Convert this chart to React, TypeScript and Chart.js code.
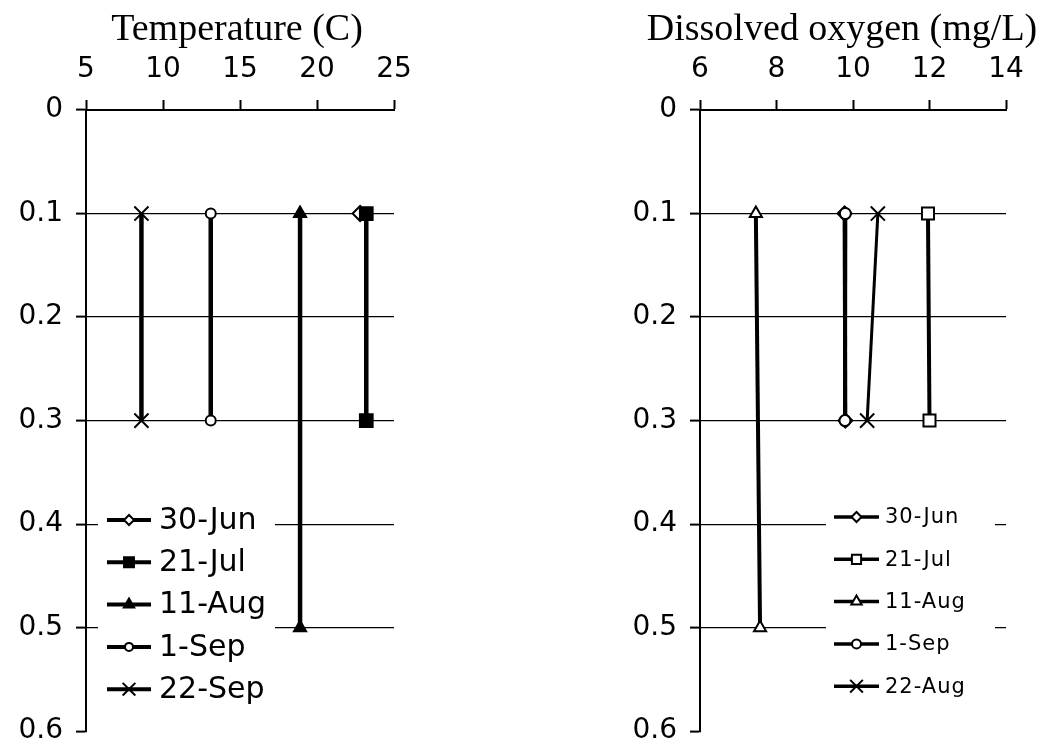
import React, { useEffect, useRef } from 'react';
import { Chart, registerables } from 'chart.js';
import { drawPoint } from 'chart.js/helpers';

Chart.register(...registerables);

// ---- Data ----
const seriesLabelsTemp = ['30-Jun', '21-Jul', '11-Aug', '1-Sep', '22-Sep'];
const seriesLabelsDO = ['30-Jun', '21-Jul', '11-Aug', '1-Sep', '22-Aug'];

const depthTicks = [0, 0.1, 0.2, 0.3, 0.4, 0.5, 0.6];
const tempTicks = [5, 10, 15, 20, 25];
const doTicks = [6, 8, 10, 12, 14];

// Temperature (C) by depth
const tempDepthsJun30 = [0.1];
const tempJun30 = [22.8];
const tempDepthsJul21 = [0.1, 0.3];
const tempJul21 = [23.2, 23.2];
const tempDepthsAug11 = [0.1, 0.5];
const tempAug11 = [18.9, 18.9];
const tempDepthsSep1 = [0.1, 0.3];
const tempSep1 = [13.1, 13.1];
const tempDepthsSep22 = [0.1, 0.3];
const tempSep22 = [8.6, 8.6];

// Dissolved oxygen (mg/L) by depth
const doDepthsJun30 = [0.1, 0.3];
const doJun30 = [9.78, 9.8];
const doDepthsJul21 = [0.1, 0.3];
const doJul21 = [11.96, 12.0];
const doDepthsAug11 = [0.1, 0.5];
const doAug11 = [7.46, 7.57];
const doDepthsSep1 = [0.1, 0.3];
const doSep1 = [9.8, 9.79];
const doDepthsAug22 = [0.1, 0.3];
const doAug22 = [10.65, 10.37];

const toPoints = (values: number[], depths: number[]) =>
  values.map((v, i) => ({ x: v, y: depths[i] }));

const TICK_FONT = { family: 'DejaVu Sans', size: 28 };
const CANVAS_H = 761;

function makeOverlay(cfg: any) {
  return {
    id: 'overlay',
    afterDraw(chart: any) {
      const ctx = chart.ctx as CanvasRenderingContext2D;
      ctx.save();
      ctx.fillStyle = 'black';
      ctx.font = cfg.titleFont;
      ctx.textAlign = 'center';
      ctx.textBaseline = 'middle';
      ctx.fillText(cfg.title, cfg.titleX, cfg.titleY);

      ctx.fillStyle = 'white';
      ctx.fillRect(cfg.box.x, cfg.box.y, cfg.box.w, cfg.box.h);

      chart.data.datasets.forEach((ds: any, i: number) => {
        const y = cfg.rowY0 + i * cfg.rowGap;
        ctx.strokeStyle = 'black';
        ctx.lineWidth = cfg.lineW;
        ctx.beginPath();
        ctx.moveTo(cfg.lineX0, y);
        ctx.lineTo(cfg.lineX1, y);
        ctx.stroke();
        ctx.fillStyle = ds.pointBackgroundColor;
        ctx.strokeStyle = 'black';
        ctx.lineWidth = cfg.markerBorder;
        drawPoint(
          ctx,
          { pointStyle: ds.pointStyle, radius: cfg.markerR[i], rotation: 0, borderWidth: cfg.markerBorder } as any,
          (cfg.lineX0 + cfg.lineX1) / 2,
          y
        );
        ctx.fillStyle = 'black';
        ctx.font = cfg.legendFont;
        ctx.textAlign = 'left';
        ctx.textBaseline = 'middle';
        (ctx as any).letterSpacing = cfg.spacing;
        ctx.fillText(ds.label, cfg.textX, y + 1);
        (ctx as any).letterSpacing = '0px';
      });
      ctx.restore();
    },
  };
}

function buildOptions(xTicks: number[], yAxisWidth: number, padRight: number) {
  return {
    responsive: false,
    animation: false as const,
    devicePixelRatio: 1,
    layout: { padding: { left: 0, top: 0, right: padRight, bottom: 0 } },
    plugins: { legend: { display: false }, tooltip: { enabled: false }, title: { display: false } },
    scales: {
      x: {
        type: 'linear' as const,
        position: 'top' as const,
        min: xTicks[0],
        max: xTicks[xTicks.length - 1],
        afterBuildTicks: (s: any) => { s.ticks = xTicks.map((v) => ({ value: v })); },
        afterFit: (s: any) => { s.height = 110; },
        border: { display: true, color: 'black', width: 2 },
        grid: { display: true, drawOnChartArea: false, drawTicks: true, tickLength: 10, tickColor: 'black', tickWidth: 2 },
        ticks: { color: 'black', font: TICK_FONT, padding: 13, maxRotation: 0, callback: (v: any) => String(v) },
      },
      y: {
        type: 'linear' as const,
        position: 'left' as const,
        reverse: true,
        min: 0,
        max: 0.6,
        afterBuildTicks: (s: any) => { s.ticks = depthTicks.map((v) => ({ value: v })); },
        afterFit: (s: any) => { s.width = yAxisWidth; },
        border: { display: true, color: 'black', width: 2 },
        grid: {
          display: true,
          drawOnChartArea: true,
          drawTicks: true,
          tickLength: 10,
          tickColor: 'black',
          tickWidth: 2,
          lineWidth: 1.2,
          color: (c: any) => (c.tick && c.tick.value > 0.05 && c.tick.value < 0.55 ? 'black' : 'rgba(0,0,0,0)'),
        },
        ticks: {
          color: 'black',
          font: TICK_FONT,
          padding: 13,
          callback: (v: any) => (Number(v) === 0 ? '0' : Number(v).toFixed(1)),
        },
      },
    },
  };
}

function ds(label: string, data: any[], style: string, fill: string, radius: number, lw: number, order: number) {
  return {
    label,
    data,
    order,
    showLine: true,
    borderColor: 'black',
    borderWidth: lw,
    pointStyle: style,
    pointRadius: radius,
    pointBackgroundColor: fill,
    pointBorderColor: 'black',
    pointBorderWidth: 2,
    fill: false,
  };
}

function TempChart() {
  const ref = useRef<HTMLCanvasElement>(null);
  useEffect(() => {
    const chart = new Chart(ref.current as HTMLCanvasElement, {
      type: 'scatter',
      data: {
        datasets: [
          ds(seriesLabelsTemp[0], toPoints(tempJun30, tempDepthsJun30), 'rectRot', 'white', 7.5, 4.5, 4),
          ds(seriesLabelsTemp[1], toPoints(tempJul21, tempDepthsJul21), 'rect', 'black', 9, 4.5, 3),
          ds(seriesLabelsTemp[2], toPoints(tempAug11, tempDepthsAug11), 'triangle', 'black', 7, 4.5, 2),
          ds(seriesLabelsTemp[3], toPoints(tempSep1, tempDepthsSep1), 'circle', 'white', 5, 4.5, 1),
          ds(seriesLabelsTemp[4], toPoints(tempSep22, tempDepthsSep22), 'crossRot', 'black', 10, 4.5, 0),
        ] as any,
      },
      options: buildOptions(tempTicks, 86, 523 - 394) as any,
      plugins: [
        makeOverlay({
          title: 'Temperature (C)',
          titleFont: '38px "Liberation Serif"',
          titleX: 237,
          titleY: 30,
          box: { x: 98, y: 496, w: 177, h: 216 },
          rowY0: 520,
          rowGap: 42.3,
          lineX0: 107,
          lineX1: 151,
          lineW: 4,
          textX: 159,
          legendFont: '30px "DejaVu Sans"',
          spacing: '0px',
          markerBorder: 2,
          markerR: [5, 7, 6, 4, 9],
        }),
      ],
    });
    return () => chart.destroy();
  }, []);
  return <canvas ref={ref} width={523} height={CANVAS_H} style={{ position: 'absolute', left: 0, top: 0, width: 523, height: CANVAS_H }} />;
}

function DOChart() {
  const ref = useRef<HTMLCanvasElement>(null);
  useEffect(() => {
    const chart = new Chart(ref.current as HTMLCanvasElement, {
      type: 'scatter',
      data: {
        datasets: [
          ds(seriesLabelsDO[0], toPoints(doJun30, doDepthsJun30), 'rectRot', 'white', 7, 4, 4),
          ds(seriesLabelsDO[1], toPoints(doJul21, doDepthsJul21), 'rect', 'white', 8.5, 4, 3),
          ds(seriesLabelsDO[2], toPoints(doAug11, doDepthsAug11), 'triangle', 'white', 7, 4, 2),
          ds(seriesLabelsDO[3], toPoints(doSep1, doDepthsSep1), 'circle', 'white', 5.5, 4, 1),
          ds(seriesLabelsDO[4], toPoints(doAug22, doDepthsAug22), 'crossRot', 'black', 10, 3, 0),
        ] as any,
      },
      options: buildOptions(doTicks, 700 - 523, 524 - (1006 - 523)) as any,
      plugins: [
        makeOverlay({
          title: 'Dissolved oxygen (mg/L)',
          titleFont: '38px "Liberation Serif"',
          titleX: 842 - 523,
          titleY: 30,
          box: { x: 826 - 523, y: 496, w: 169, h: 210 },
          rowY0: 517,
          rowGap: 42.3,
          lineX0: 834 - 523,
          lineX1: 879 - 523,
          lineW: 3.5,
          textX: 885 - 523,
          legendFont: '21px "DejaVu Sans"',
          spacing: '1px',
          markerBorder: 2,
          markerR: [5, 6.5, 6, 4.5, 9],
        }),
      ],
    });
    return () => chart.destroy();
  }, []);
  return <canvas ref={ref} width={524} height={CANVAS_H} style={{ position: 'absolute', left: 523, top: 0, width: 524, height: CANVAS_H }} />;
}

export default function App() {
  return (
    <div style={{ position: 'fixed', left: 0, top: 0, width: 1047, height: 744, background: 'white', overflow: 'hidden' }}>
      <TempChart />
      <DOChart />
    </div>
  );
}
